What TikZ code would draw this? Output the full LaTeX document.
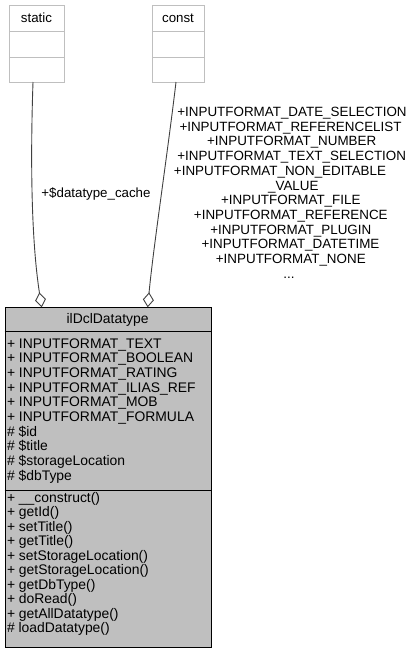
\documentclass[tikz,border=0pt]{standalone}
\usepackage{fontspec}
\setmainfont{Liberation Sans}
\usetikzlibrary{arrows.meta}
\definecolor{boxfill}{HTML}{BFBFBF}
\definecolor{lightborder}{HTML}{BFBFBF}
\definecolor{edgecol}{HTML}{404040}
\begin{document}
\begin{tikzpicture}[x=1pt,y=-1pt,
  font=\fontsize{13.3}{14.7}\selectfont,
  txt/.style={inner sep=0pt, outer sep=0pt},
  member/.style={txt, font=\fontsize{13.9}{14.7}\selectfont},
  lightbox/.style={draw=lightborder, fill=white, line width=1pt, inner sep=0pt, anchor=north west, minimum width=55pt, minimum height=76.5pt},
  mainbox/.style={draw=black, fill=boxfill, line width=1pt, inner sep=0pt, anchor=north west},
  edge/.style={draw=edgecol, line width=0.9pt, -{Diamond[length=15pt, width=11pt, fill=white, line width=0.9pt]}}]
\useasboundingbox (0,0) rectangle (415,653);

% top boxes
\node[lightbox] (static) at (9,5) {};
\draw[lightborder, line width=1pt] ([yshift=-26pt]static.north west) -- ([yshift=-26pt]static.north east);
\draw[lightborder, line width=1pt] ([yshift=-52pt]static.north west) -- ([yshift=-52pt]static.north east);
\node[txt, anchor=base] (statictitle) at (36.5,22) {static};

\node[lightbox, minimum width=52pt] (const) at (152,5) {};
\draw[lightborder, line width=1pt] ([yshift=-26pt]const.north west) -- ([yshift=-26pt]const.north east);
\draw[lightborder, line width=1pt] ([yshift=-52pt]const.north west) -- ([yshift=-52pt]const.north east);
\node[txt, anchor=base] (consttitle) at (178,22) {const};

% main class box
\node[mainbox, minimum width=206.2pt, minimum height=339.4pt] (main) at (4.5,307.3) {};
\draw[black, line width=1pt] ([yshift=-24.4pt]main.north west) -- ([yshift=-24.4pt]main.north east);
\draw[black, line width=1pt] ([yshift=-182.7pt]main.north west) -- ([yshift=-182.7pt]main.north east);
\node[member, anchor=base] (maintitle) at (107.6,323) {ilDclDatatype};

\foreach [count=\i] \t in {{+ INPUTFORMAT\_TEXT},{+ INPUTFORMAT\_BOOLEAN},{+ INPUTFORMAT\_RATING},{+ INPUTFORMAT\_ILIAS\_REF},{+ INPUTFORMAT\_MOB},{+ INPUTFORMAT\_FORMULA},{\# \$id},{\# \$title},{\# \$storageLocation},{\# \$dbType}}
  \node[member, anchor=base west] (attr\i) at (7,348+14.7*\i-14.7) {\t};

\foreach [count=\i] \t in {{+ \_\_construct()},{+ getId()},{+ setTitle()},{+ getTitle()},{+ setStorageLocation()},{+ getStorageLocation()},{+ getDbType()},{+ doRead()},{+ getAllDatatype()},{\# loadDatatype()}}
  \node[member, anchor=base west] (meth\i) at (7,502.3+14.5*\i-14.5) {\t};

% connectors
\coordinate (sA) at (33,82);
\coordinate (mA) at (41.7,307.3);
\draw[edge] (sA) .. controls (30,170) and (32,245) .. (mA);
\coordinate (sB) at (176,82);
\coordinate (mB) at (147.7,307.3);
\draw[edge] (sB) .. controls (168,150) and (153,250) .. (mB);

% labels
\node[txt, anchor=base] (lblA) at (96,197.5) {+\$datatype\_cache};
\foreach [count=\i] \t/\x in {{+INPUTFORMAT\_DATE\_SELECTION}/292,{+INPUTFORMAT\_REFERENCELIST}/290.5,{+INPUTFORMAT\_NUMBER}/291.7,{+INPUTFORMAT\_TEXT\_SELECTION}/291.7,{+INPUTFORMAT\_NON\_EDITABLE}/280,{\_VALUE}/293.3,{+INPUTFORMAT\_FILE}/290.8,{+INPUTFORMAT\_REFERENCE}/290.8,{+INPUTFORMAT\_PLUGIN}/290.8,{+INPUTFORMAT\_DATETIME}/290.5,{+INPUTFORMAT\_NONE}/290.8,{...}/289}
  \node[txt, anchor=base, font=\fontsize{13.4}{14.7}\selectfont] (lblB\i) at (\x,116.5+14.7*\i-14.7) {\t};
\end{tikzpicture}
\end{document}
